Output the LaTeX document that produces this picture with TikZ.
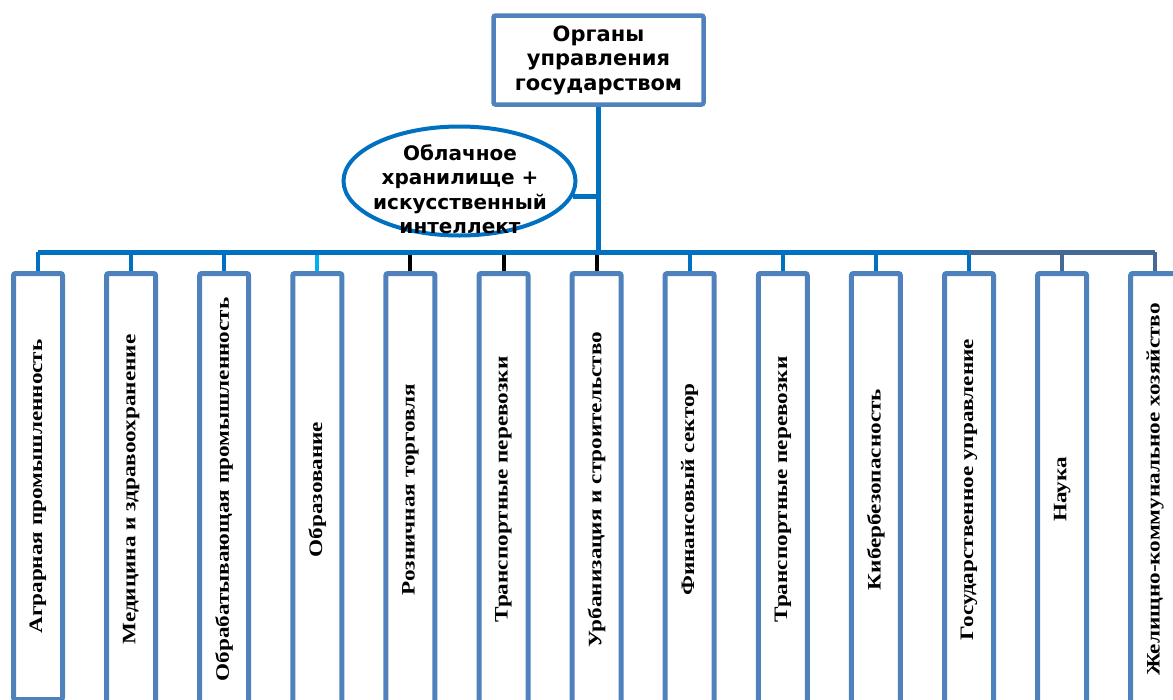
\documentclass[tikz,border=0pt]{standalone}
\usepackage{fontspec}
\setmainfont{Liberation Serif}
\newfontfamily\headfont{DejaVu Sans}
\definecolor{frame}{RGB}{79, 129, 189}
\definecolor{bus}{RGB}{0, 112, 192}
\definecolor{sky}{RGB}{0, 176, 240}
\definecolor{slate}{RGB}{70, 106, 150}
\usetikzlibrary{shapes.geometric, positioning}

\begin{document}
\begin{tikzpicture}[x=1pt, y=-1pt,
    head/.style={draw=frame, line width=4.5pt, rounded corners=2pt, fill=white,
      minimum width=210pt, minimum height=89pt, align=center,
      font=\headfont\bfseries\fontsize{21}{24.5}\selectfont},
    cloudbox/.style={ellipse, draw=bus, line width=4pt, fill=white,
      minimum width=232pt, minimum height=109pt, inner sep=0pt},
    cloudtext/.style={align=center, inner sep=0pt,
      font=\headfont\bfseries\fontsize{20}{24.5}\selectfont},
    sector/.style={draw=frame, line width=5pt, rounded corners=2pt, rotate=90,
      anchor=east, minimum height=49pt, inner sep=0pt,
      font=\bfseries\fontsize{19}{20}\selectfont},
    link/.style={draw=bus, line width=5pt},
    tick/.style={line width=4pt},
  ]
  \useasboundingbox (0,0) rectangle (1173,699);
  \clip (0,0) rectangle (1173,699);

  % top and cloud
  \node[head] (organs) at (598.5,60) {Органы\\управления\\государством};
  \coordinate (hub) at (598.5,252);
  \node[cloudbox] (cloud) at (459.5,181) {};
  \node[cloudtext] (cloudlbl) at (460,189) {Облачное\\хранилище +\\искусственный\\интеллект};

  % sectors
  \foreach \i/\len/\col/\lbl in {
      1/426/bus/{Аграрная  промышленность},
      2/432/bus/{Медицина и здравоохранение},
      3/432/bus/{Обрабатывающая промышленность},
      4/432/sky/{Образование},
      5/432/black/{Розничная  торговля},
      6/432/black/{Транспортные перевозки},
      7/432/black/{Урбанизация и строительство},
      8/432/bus/{Финансовый сектор},
      9/432/bus/{Транспортные перевозки},
      10/432/bus/{Кибербезопасность},
      11/432/bus/{Государственное управление},
      12/432/slate/{Наука},
      13/432/slate/{Желищно-коммунальное  хозяйство}} {
    \pgfmathsetmacro\cx{38+93.1*(\i-1)}
    \node[sector, minimum width=\len pt] (sec\i) at (\cx,271) {\scalebox{1.22}[1]{\lbl}};
    \draw[tick, \col] (sec\i.east) -- (sec\i.east |- hub);
  }

  % bus and trunk
  \draw[link] (sec1.east |- hub) -- (sec11.east |- hub);
  \draw[link, draw=slate] (sec11.east |- hub) -- (sec13.east |- hub);
  \draw[link] (organs.south) -- (hub);
  \draw[link] (cloud.-8) -- (cloud.-8 -| hub);
\end{tikzpicture}
\end{document}
